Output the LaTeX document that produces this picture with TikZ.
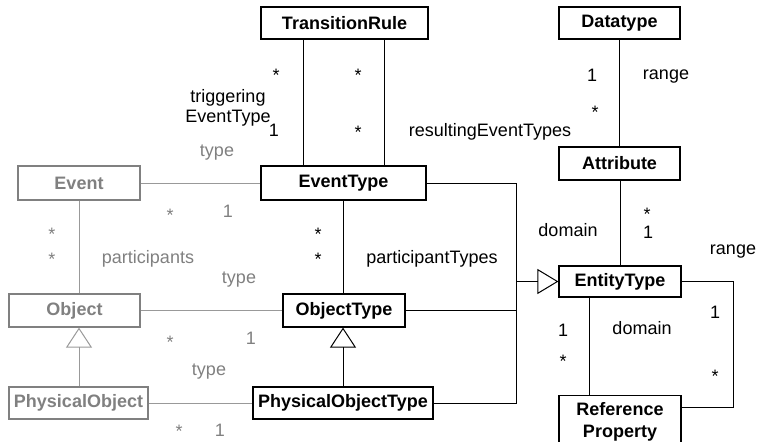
\documentclass[tikz,border=0pt]{standalone}
\usepackage{fontspec}
\setmainfont{Liberation Sans}
\usetikzlibrary{arrows.meta,calc}
\definecolor{gtext}{HTML}{808080}
\definecolor{gline}{HTML}{999999}
\begin{document}
\begin{tikzpicture}[x=1pt,y=-1pt,
  font=\fontsize{18}{22}\selectfont,
  cls/.style={draw, line width=1.2pt, font=\fontsize{18}{22}\selectfont\bfseries, inner sep=0pt, minimum height=33pt},
  gcls/.style={cls, draw=gtext, text=gtext},
  conn/.style={line width=1pt},
  gconn/.style={conn, draw=gline},
  lbl/.style={inner sep=0pt, text height=13pt, text depth=4pt},
  glbl/.style={lbl, text=gtext},
  gen/.style={-{Triangle[open, length=20pt, width=26pt]}},
  genh/.style={-{Triangle[open, length=21pt, width=25pt]}}]
\useasboundingbox (0,0) rectangle (759,441);
\clip (0,0) rectangle (759,441);

% classes
\node[cls, minimum width=167pt, minimum height=32pt] (TR) at (344.5,23) {TransitionRule};
\node[cls, minimum width=165pt, minimum height=34pt] (ET) at (343.5,183) {EventType};
\node[cls, minimum width=121pt, minimum height=32pt] (DT) at (619.5,23) {Datatype};
\node[cls, minimum width=121pt] (AT) at (619.5,163.5) {Attribute};
\node[cls, minimum width=122pt, minimum height=31pt] (EnT) at (620,281.5) {EntityType};
\node[cls, minimum width=122pt] (OT) at (344,310.5) {ObjectType};
\node[cls, minimum width=180pt, minimum height=32pt] (POT) at (343,403) {PhysicalObjectType};
\node[cls, anchor=north, minimum width=122pt, minimum height=52pt, align=center] (RP) at (620,395) {Reference\\Property};
\node[gcls, minimum width=122pt, minimum height=34pt] (EV) at (79,183) {Event};
\node[gcls, minimum width=131pt] (OB) at (74.5,310.5) {Object};
\node[gcls, minimum width=139pt, minimum height=32pt] (PO) at (78.5,403) {PhysicalObject};

% gray connectors
\draw[gconn] (EV) -- (ET);
\draw[gconn] (EV.south) -- (EV.south |- OB.north);
\draw[gconn] (OB) -- (OT);
\draw[gconn, gen] (EV.south |- PO.north) -- (EV.south |- OB.south);
\draw[gconn] (PO) -- (POT);

% black connectors
\draw[conn] ([xshift=-40.5pt]ET.north |- TR.south) -- ([xshift=-40.5pt]ET.north);
\draw[conn] ([xshift=40.5pt]ET.north |- TR.south) -- ([xshift=40.5pt]ET.north);
\draw[conn] (ET.south) -- (ET.south |- OT.north);
\draw[conn, gen] (POT.north) -- (POT.north |- OT.south);
\draw[conn] (DT.south) -- (DT.south |- AT.north);
\draw[conn] (EnT.north |- AT.south) -- (EnT.north);
\draw[conn] ([xshift=-31pt]EnT.south) -- ([xshift=-31pt]EnT.south |- RP.north);
\draw[conn] (EnT.east) -| ($(RP.north east)+(52,12)$) -- ($(RP.north east)+(0,12)$);

\coordinate (gj) at ($(EnT.west)+(-42,0)$);
\draw[conn] (ET.east) -| (gj);
\draw[conn] (POT.east) -| (gj);
\draw[conn] (OT.east) -- (OT.east -| gj);
\draw[conn, genh] (gj) -- (EnT.west);

% black labels
\node[lbl] (l1) at (276,77) {*};
\node[lbl] (l2) at (358,77) {*};
\node[lbl] (l3) at (358,134) {*};
\node[lbl] (l4) at (274,132) {1};
\node[inner sep=0pt, align=center, font=\fontsize{18}{20}\selectfont] (l5) at (228,108) {triggering\\EventType};
\node[lbl] (l6) at (490,132) {resultingEventTypes};
\node[lbl] (l7) at (592,77) {1};
\node[lbl] (l8) at (666,75) {range};
\node[lbl] (l9) at (595,114) {*};
\node[lbl] (l10) at (647,216) {*};
\node[lbl] (l11) at (648,234) {1};
\node[lbl] (l12) at (568,232) {domain};
\node[lbl] (l13) at (733,250) {range};
\node[lbl] (l14) at (432,259) {participantTypes};
\node[lbl] (l15) at (318,236) {*};
\node[lbl] (l16) at (318,261) {*};
\node[lbl] (l17) at (563,332) {1};
\node[lbl] (l18) at (563,363) {*};
\node[lbl] (l19) at (642,330) {domain};
\node[lbl] (l20) at (715,314) {1};
\node[lbl] (l21) at (715,378) {*};

% gray labels
\node[glbl] (g1) at (217,152) {type};
\node[glbl] (g2) at (170,217) {*};
\node[glbl] (g3) at (228,213) {1};
\node[glbl] (g4) at (52,236) {*};
\node[glbl] (g5) at (52,261) {*};
\node[glbl] (g6) at (148,259) {participants};
\node[glbl] (g7) at (239,279) {type};
\node[glbl] (g8) at (170,344) {*};
\node[glbl] (g9) at (251,340) {1};
\node[glbl] (g10) at (209,371) {type};
\node[glbl, text depth=0pt] (g11) at (179,431) {*};
\node[glbl, text depth=0pt] (g12) at (220,430) {1};
\end{tikzpicture}
\end{document}
